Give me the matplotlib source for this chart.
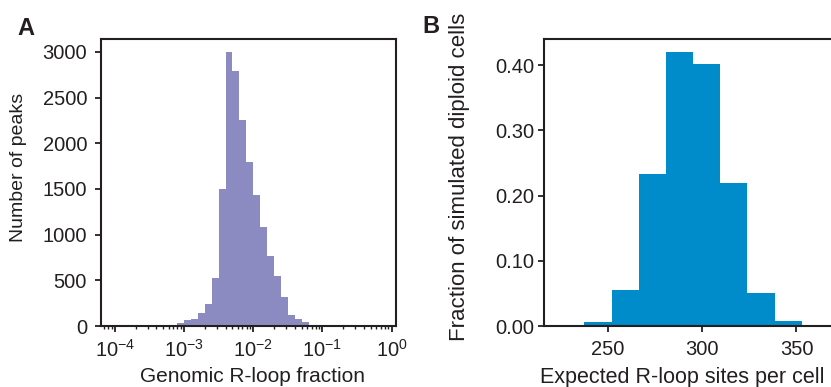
import numpy as np
import matplotlib
matplotlib.use("Agg")
import matplotlib.pyplot as plt
from matplotlib.ticker import LogLocator, FormatStrFormatter

plt.rcParams['font.family'] = ['Liberation Sans', 'DejaVu Sans']
plt.rcParams['mathtext.fontset'] = 'custom'
plt.rcParams['mathtext.rm'] = 'Liberation Sans'
plt.rcParams['mathtext.it'] = 'Liberation Sans'
plt.rcParams['mathtext.default'] = 'regular'

ink = '#231f20'

# panel A: log10 bin starts (width 0.1) and peak counts
a_bin_start = [-3.3, -3.2, -3.1, -3.0, -2.9, -2.8, -2.7, -2.6, -2.5, -2.4, -2.3,
               -2.2, -2.1, -2.0, -1.9, -1.8, -1.7, -1.6, -1.5, -1.4, -1.3, -1.2]
a_counts = [11, 0, 33, 66, 77, 142, 241, 525, 1499, 2998, 2790,
            2254, 1794, 1433, 1083, 766, 547, 317, 120, 77, 44, 15]
a_bin_width = 0.1

# panel B: bin edges and fraction of cells
b_edges = [237.6, 252.0, 266.4, 280.8, 295.2, 309.6, 324.0, 338.4, 352.8]
b_frac = [0.006, 0.055, 0.233, 0.420, 0.401, 0.219, 0.051, 0.008]

fig = plt.figure(figsize=(8.31, 3.87), dpi=100)
axA = fig.add_axes([0.1215, 0.1576, 0.355, 0.7416])
axB = fig.add_axes([0.6546, 0.1576, 0.3454, 0.7416])

# --- A ---
a_edges = 10 ** np.append(a_bin_start, a_bin_start[-1] + a_bin_width)
a_mid = 10 ** (np.array(a_bin_start) + a_bin_width / 2)
axA.hist(a_mid, bins=a_edges, weights=a_counts, color='#8b8bc1')
axA.set_xscale('log')
axA.set_xlim(10 ** -4.2, 10 ** 0.063)
axA.set_ylim(0, 3140)
axA.set_yticks([0, 500, 1000, 1500, 2000, 2500, 3000])
axA.xaxis.set_major_locator(LogLocator(base=10, numticks=10))
axA.xaxis.set_minor_locator(LogLocator(base=10, subs=np.arange(2, 10), numticks=20))
axA.set_xlabel('Genomic R-loop fraction', fontsize=15, color=ink)
axA.set_ylabel('Number of peaks', fontsize=14, color=ink)
axA.xaxis.set_label_coords(0.515, -0.143)
axA.yaxis.set_label_coords(-0.251, 0.554)

# --- B ---
axB.hist(b_edges[:-1], bins=b_edges, weights=b_frac, color='#008bca')
axB.set_xlim(216.2, 368.3)
axB.set_ylim(0, 0.44)
axB.set_xticks([250, 300, 350])
axB.set_yticks([0, 0.1, 0.2, 0.3, 0.4])
axB.yaxis.set_major_formatter(FormatStrFormatter('%.2f'))
axB.spines['right'].set_visible(False)
axB.set_xlabel('Expected R-loop sites per cell', fontsize=15.5, color=ink)
axB.set_ylabel('Fraction of simulated diploid cells', fontsize=16, color=ink)
axB.xaxis.set_label_coords(0.481, -0.143)
axB.yaxis.set_label_coords(-0.258, 0.521)

for ax in (axA, axB):
    for s in ax.spines.values():
        s.set_linewidth(1.5)
        s.set_color(ink)
    ax.tick_params(which='major', direction='out', length=4, width=1.3,
                   colors=ink, labelsize=14.5)
    ax.tick_params(which='minor', direction='out', length=2.2, width=1.0, colors=ink)

axA.tick_params(axis='y', pad=6)
axA.tick_params(axis='x', pad=5)
axB.tick_params(axis='y', pad=3)
axB.tick_params(axis='x', pad=6)

fig.text(0.0205, 0.957, 'A', fontsize=17, fontweight='bold', color=ink, va='top')
fig.text(0.508, 0.961, 'B', fontsize=17, fontweight='bold', color=ink, va='top')

plt.savefig('out.png', dpi=100)
